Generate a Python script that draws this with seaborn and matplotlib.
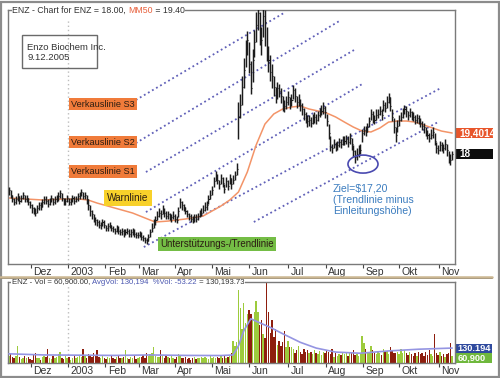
import numpy as np
import pandas as pd
import matplotlib
matplotlib.use("Agg")
import matplotlib.pyplot as plt
import seaborn as sns
from matplotlib.patches import Rectangle, Ellipse
from matplotlib.lines import Line2D
import matplotlib.transforms as mtransforms

# ---------------- data ----------------
close = [15.6, 15.3, 15.0, 14.8, 15.0, 15.2, 14.9, 15.1, 15.3, 15.0,
         15.1, 14.8, 14.6, 14.4, 14.2, 14.1, 14.4, 14.6, 14.5, 14.8,
         15.0, 14.9, 14.7, 14.9, 15.1, 14.8, 15.0, 15.0, 15.2, 15.4,
         15.1, 14.8, 14.9, 15.1, 14.8, 14.9, 15.1, 14.9, 15.0, 15.2,
         15.3, 15.5, 15.2, 15.3, 15.0, 14.6, 14.2, 14.0, 13.7, 13.6,
         13.5, 13.3, 13.3, 13.5, 13.3, 13.1, 13.2, 13.3, 13.1, 13.0,
         12.9, 13.1, 12.9, 12.8, 12.9, 12.7, 12.8, 12.9, 12.7, 12.8,
         12.9, 12.7, 12.6, 12.6, 12.7, 12.5, 12.4, 12.3, 12.2, 12.5,
         12.8, 13.1, 13.4, 13.6, 13.9, 14.1, 14.0, 14.3, 14.1, 13.9,
         14.0, 13.8, 13.8, 13.9, 13.7, 13.6, 14.2, 14.8, 14.6, 14.5,
         14.2, 14.0, 13.9, 13.7, 13.6, 13.8, 13.7, 13.9, 14.0, 14.1,
         14.3, 14.5, 14.6, 15.0, 15.3, 15.6, 16.2, 16.6, 16.3, 16.0,
         16.4, 16.1, 15.7, 16.2, 15.9, 16.4, 16.0, 16.3, 16.6, 17.0,
         20.5, 21.3, 22.5, 23.6, 24.8, 25.6, 24.0, 22.4, 24.3, 25.5,
         26.6, 27.4, 26.2, 25.6, 27.2, 26.8, 25.0, 24.3, 23.5, 23.2,
         22.5, 21.9, 22.4, 22.2, 21.9, 21.4, 21.2, 21.5, 21.8, 21.4,
         21.6, 22.3, 21.9, 21.5, 21.6, 21.3, 21.0, 20.7, 20.5, 20.2,
         20.3, 20.1, 20.3, 20.5, 20.3, 20.6, 20.8, 20.9, 21.1, 20.8,
         20.2, 19.4, 18.5, 18.4, 18.7, 18.5, 18.6, 18.8, 18.7, 18.9,
         18.9, 19.0, 18.8, 19.1, 18.7, 18.2, 17.8, 18.0, 18.2, 18.3,
         19.4, 19.6, 19.5, 19.8, 20.2, 20.7, 20.5, 20.3, 20.6, 20.7,
         20.9, 20.6, 21.3, 21.1, 21.5, 21.8, 21.2, 20.5, 19.8, 19.3,
         19.9, 20.3, 20.5, 20.8, 21.0, 20.9, 20.6, 20.8, 20.6, 20.5,
         20.3, 20.4, 20.3, 20.1, 19.9, 19.8, 19.5, 19.3, 19.1, 19.3,
         19.5, 18.9, 18.4, 18.3, 18.6, 18.5, 18.4, 18.7, 18.3, 17.9,
         17.6, 18.0]

high = [15.8, 15.6, 15.3, 15.1, 15.2, 15.4, 15.2, 15.3, 15.5, 15.3,
        15.3, 15.1, 14.9, 14.7, 14.5, 14.4, 14.6, 14.8, 14.8, 15.0,
        15.2, 15.2, 15.0, 15.1, 15.3, 15.1, 15.2, 15.3, 15.5, 15.6,
        15.4, 15.1, 15.1, 15.3, 15.1, 15.1, 15.3, 15.2, 15.2, 15.4,
        15.5, 15.7, 15.5, 15.5, 15.3, 15.0, 14.6, 14.3, 14.0, 13.8,
        13.7, 13.6, 13.5, 13.7, 13.6, 13.3, 13.4, 13.5, 13.3, 13.2,
        13.1, 13.3, 13.2, 13.0, 13.1, 13.0, 13.0, 13.1, 13.0, 13.0,
        13.1, 13.0, 12.8, 12.8, 12.9, 12.8, 12.6, 12.5, 12.4, 12.7,
        13.0, 13.4, 13.7, 13.9, 14.2, 14.4, 14.3, 14.6, 14.4, 14.2,
        14.2, 14.1, 14.0, 14.2, 14.0, 13.9, 14.5, 15.1, 14.9, 14.7,
        14.5, 14.3, 14.1, 14.0, 13.9, 14.0, 14.0, 14.1, 14.3, 14.4,
        14.6, 14.8, 14.9, 15.3, 15.6, 15.9, 16.5, 16.9, 16.7, 16.3,
        16.7, 16.5, 16.0, 16.5, 16.3, 16.7, 16.4, 16.6, 16.9, 17.4,
        21.5, 22.0, 23.2, 24.4, 25.6, 26.2, 25.5, 24.2, 25.0, 26.3,
        27.5, 27.9, 27.5, 26.5, 27.9, 27.6, 26.5, 25.2, 24.6, 24.0,
        23.2, 22.5, 22.8, 22.7, 22.4, 21.9, 21.6, 21.9, 22.2, 21.8,
        22.0, 22.6, 22.4, 21.9, 22.0, 21.7, 21.4, 21.1, 20.8, 20.6,
        20.6, 20.5, 20.7, 20.8, 20.7, 20.9, 21.1, 21.3, 21.5, 21.2,
        20.7, 20.0, 19.2, 18.7, 19.0, 18.8, 18.9, 19.1, 19.0, 19.2,
        19.2, 19.3, 19.2, 19.4, 19.1, 18.6, 18.3, 18.4, 18.6, 18.7,
        19.7, 19.9, 19.9, 20.1, 20.5, 21.0, 20.9, 20.6, 21.0, 21.0,
        21.2, 21.0, 21.6, 21.5, 21.9, 22.1, 21.8, 21.0, 20.4, 19.8,
        20.3, 20.6, 20.8, 21.1, 21.3, 21.2, 20.9, 21.1, 20.9, 20.8,
        20.6, 20.7, 20.6, 20.4, 20.2, 20.1, 19.8, 19.6, 19.4, 19.7,
        19.8, 19.4, 18.8, 18.6, 18.9, 18.8, 18.7, 19.0, 18.7, 18.2,
        18.0, 18.2]

low = [15.3, 15.1, 14.8, 14.6, 14.7, 14.9, 14.7, 14.8, 15.0, 14.8,
       14.8, 14.6, 14.4, 14.1, 14.0, 13.9, 14.1, 14.3, 14.3, 14.5,
       14.7, 14.7, 14.5, 14.6, 14.8, 14.6, 14.7, 14.8, 14.9, 15.1,
       14.9, 14.6, 14.6, 14.8, 14.6, 14.6, 14.8, 14.7, 14.8, 14.9,
       15.0, 15.2, 15.0, 15.0, 14.7, 14.3, 13.9, 13.7, 13.5, 13.3,
       13.2, 13.1, 13.0, 13.2, 13.1, 12.9, 12.9, 13.1, 12.9, 12.8,
       12.7, 12.8, 12.7, 12.6, 12.6, 12.5, 12.6, 12.7, 12.5, 12.5,
       12.6, 12.5, 12.4, 12.4, 12.5, 12.3, 12.2, 12.1, 12.0, 12.2,
       12.5, 12.8, 13.1, 13.3, 13.6, 13.8, 13.7, 14.0, 13.8, 13.7,
       13.7, 13.6, 13.5, 13.7, 13.5, 13.4, 13.8, 14.4, 14.3, 14.2,
       14.0, 13.8, 13.6, 13.5, 13.4, 13.5, 13.5, 13.6, 13.8, 13.9,
       14.1, 14.2, 14.3, 14.7, 15.0, 15.3, 15.8, 16.2, 16.0, 15.7,
       16.0, 15.8, 15.4, 15.8, 15.6, 16.0, 15.7, 16.0, 16.3, 16.6,
       19.0, 20.4, 21.3, 22.4, 23.8, 24.6, 23.4, 22.0, 22.8, 24.5,
       25.5, 26.3, 25.3, 24.6, 25.8, 25.2, 24.2, 23.5, 22.9, 22.4,
       21.9, 21.4, 21.7, 21.8, 21.4, 20.9, 20.8, 21.0, 21.3, 21.0,
       21.2, 21.7, 21.5, 21.1, 21.2, 20.9, 20.6, 20.3, 20.1, 19.8,
       19.9, 19.8, 20.0, 20.1, 20.0, 20.2, 20.5, 20.6, 20.7, 20.4,
       19.9, 19.0, 18.2, 18.1, 18.4, 18.2, 18.3, 18.5, 18.4, 18.6,
       18.6, 18.7, 18.5, 18.7, 18.3, 17.8, 17.4, 17.6, 17.8, 18.0,
       18.8, 19.3, 19.2, 19.5, 19.8, 20.3, 20.1, 20.0, 20.3, 20.4,
       20.6, 20.3, 20.9, 20.8, 21.1, 21.4, 20.9, 20.2, 19.4, 18.8,
       19.5, 19.9, 20.2, 20.4, 20.7, 20.5, 20.3, 20.5, 20.3, 20.2,
       20.0, 20.1, 20.0, 19.8, 19.6, 19.4, 19.2, 19.0, 18.8, 19.0,
       19.1, 18.6, 18.1, 18.0, 18.2, 18.2, 18.1, 18.3, 17.9, 17.4,
       17.3, 17.6]

volume_k = [60, 75, 55, 40, 65, 150, 50, 35, 45, 60,
            40, 55, 35, 30, 70, 85, 45, 40, 30, 55,
            65, 50, 120, 45, 35, 60, 40, 50, 75, 95,
            45, 35, 60, 40, 55, 30, 45, 65, 40, 50,
            70, 55, 120, 60, 45, 80, 65, 50, 90, 70,
            110, 55, 40, 60, 45, 35, 50, 40, 65, 45,
            35, 50, 60, 40, 45, 55, 110, 40, 35, 50,
            45, 60, 35, 40, 55, 50, 70, 45, 85, 60,
            75, 90, 140, 65, 55, 50, 110, 60, 45, 70,
            50, 40, 65, 45, 35, 55, 80, 70, 45, 40,
            55, 35, 45, 30, 40, 50, 35, 45, 40, 55,
            40, 50, 45, 35, 60, 45, 55, 40, 50, 45,
            60, 45, 70, 40, 55, 65, 90, 190, 150, 180,
            634, 475, 300, 520, 350, 430, 460, 430, 380, 440,
            540, 440, 330, 370, 255, 220, 695, 440, 265, 370,
            230, 300, 160, 195, 150, 180, 280, 140, 195, 135,
            135, 125, 90, 110, 150, 100, 80, 120, 95, 110,
            85, 100, 75, 110, 90, 80, 105, 70, 95, 85,
            110, 100, 75, 120, 55, 90, 60, 80, 70, 100,
            75, 85, 65, 95, 90, 110, 70, 80, 60, 75,
            235, 175, 120, 100, 85, 150, 110, 90, 75, 100,
            85, 70, 120, 95, 105, 80, 140, 110, 90, 85,
            100, 75, 120, 90, 110, 85, 70, 95, 80, 60,
            90, 65, 100, 75, 85, 60, 95, 70, 110, 80,
            65, 250, 85, 70, 95, 60, 80, 55, 75, 90,
            175, 60.9]

ma50_idx = [0, 10, 20, 30, 40, 45, 50, 60, 70, 80, 83, 90, 100, 110, 120, 125,
            130, 135, 140, 145, 150, 155, 160, 165, 170, 175, 180, 185, 190,
            195, 200, 205, 210, 215, 220, 225, 230, 235, 240, 245, 251]
ma50_val = [15.07, 15.0, 14.93, 15.0, 15.0, 14.93, 14.73, 14.4, 14.07, 13.6,
            13.47, 13.53, 13.67, 13.87, 14.53, 14.93, 15.47, 16.8, 18.6, 20.0,
            20.67, 21.0, 21.13, 21.2, 21.0, 20.87, 20.73, 20.47, 20.13, 19.8,
            19.53, 19.47, 19.73, 20.13, 20.2, 20.2, 20.13, 19.93, 19.73, 19.53,
            19.40]

avgvol_idx = [0, 20, 40, 60, 80, 100, 120, 127, 130, 133, 137, 142, 148,
              155, 165, 174, 185, 199, 215, 232, 251]
avgvol_k = [80, 70, 68, 66, 70, 66, 65, 70, 150, 280, 385, 350, 310,
            255, 180, 130, 95, 85, 105, 120, 130]

month_labels = ["Dez", "2003", "Feb", "Mar", "Apr", "Mai", "Jun", "Jul",
                "Aug", "Sep", "Okt", "Nov"]
month_idx = [12.5, 33.5, 54.5, 73.5, 94, 115, 136, 158, 179.5, 200.5, 221, 243.5]

trend_i0 = [71.9, 71.9, 77.6, 77.6, 76.4, 138.7]
trend_p0 = [21.6, 18.73, 16.8, 14.13, 11.8, 13.47]
trend_i1 = [155.7, 188.0, 195.4, 201.0, 244.6, 243.0]
trend_p1 = [27.4, 26.93, 24.93, 22.73, 22.4, 20.13]

last_close = 18.0
ma50_last = 19.4014
avgvol_last = 130.194
vol_last = 60.9

# ---------------- style ----------------
sns.set_style("white")
plt.rcParams['font.family'] = ['Liberation Sans', 'DejaVu Sans']

W, H = 500, 378
fig = plt.figure(figsize=(5.0, 3.78), dpi=100)
fig.patch.set_facecolor('white')


def fx(px):
    return px / W


def fy(py):
    return 1 - py / H


ax = fig.add_axes([fx(8), fy(264), fx(447), (264 - 10) / H])
ax2 = fig.add_axes([fx(8), fy(363), fx(447), (363 - 282) / H])

n = len(close)
x = np.arange(n)
df = pd.DataFrame({"i": x, "close": close, "high": high, "low": low,
                   "vol": np.array(volume_k) * 1000})

# price bars
ax.vlines(df["i"], df["low"], df["high"], color='#1c1c1c', lw=1.05, zorder=3)
ax.hlines(df["close"], df["i"], df["i"] + 0.6, color='#1c1c1c', lw=0.8, zorder=3)

# MA50
sns.lineplot(x=ma50_idx, y=ma50_val, ax=ax, color='#f39468', lw=1.1,
             estimator=None, sort=False, zorder=2)

# trend lines
for a0, b0, a1, b1 in zip(trend_i0, trend_p0, trend_i1, trend_p1):
    ax.plot([a0, a1], [b0, b1], color='#6060b8', lw=1.3, ls=(0, (1, 1.6)), zorder=1)

# 2003 separator
for a in (ax, ax2):
    a.axvline(33.4, color='#bdbdbd', ls=(0, (1, 2)), lw=1.0, ymax=0.96, zorder=0)

ax.set_xlim(-0.5, 252.6)
ax.set_ylim(10.67, 27.6)
ax2.set_xlim(-0.5, 252.6)
ax2.set_ylim(0, 705000)

# labels for lines
lab_kw = dict(color='#2b1d12', va='center', zorder=5)
s_box = dict(boxstyle='square,pad=0.2', fc='#f07b3a', ec='none')
ax.text(71.3, 21.33, "Verkauslinie S3", ha='right', fontsize=6.6, bbox=s_box, **lab_kw)
ax.text(71.3, 18.8, "Verkauslinie S2", ha='right', fontsize=6.6, bbox=s_box, **lab_kw)
ax.text(71.3, 16.83, "Verkauslinie S1", ha='right', fontsize=6.6, bbox=s_box, **lab_kw)
ax.text(67.4, 15.1, "Warnlinie", ha='center', fontsize=7.2,
        bbox=dict(boxstyle='square,pad=0.3', fc='#f8d12a', ec='none'), **lab_kw)
ax.text(85.7, 12.0, "Unterstützungs-/Trendlinie", ha='left', fontsize=7.0,
        bbox=dict(boxstyle='square,pad=0.2', fc='#74bd45', ec='none'), **lab_kw)

# target ellipse and text
ax.add_patch(Ellipse((200.5, 17.33), 17, 1.2, fill=False, ec='#4a4ab0', lw=1.2, zorder=4))
ax.text(183.5, 16.05, "Ziel=$17,20\n(Trendlinie minus\nEinleitungshöhe)",
        color='#3b7cbf', fontsize=7.6, va='top', ha='left', linespacing=1.2)

# right value labels (price)
blend = mtransforms.blended_transform_factory(ax.transAxes, ax.transData)
ax.add_patch(Rectangle((1.003, ma50_last - 0.31), 0.083, 0.62, transform=blend,
                       clip_on=False, fc='#e8552a', ec='none'))
ax.text(1.01, ma50_last, "19,4014", transform=blend, color='white', fontsize=7.2,
        fontweight='bold', va='center', ha='left', clip_on=False)
ax.add_patch(Rectangle((1.003, last_close - 0.31), 0.083, 0.62, transform=blend,
                       clip_on=False, fc='#0d0d0d', ec='none'))
ax.text(1.01, last_close, "18", transform=blend, color='white', fontsize=7.2,
        fontweight='bold', va='center', ha='left', clip_on=False)

# volume
vol_col = ['#9dcb3c' if (k == 0 or close[k] >= close[k - 1]) else '#8e1e0e' for k in range(n)]
ax2.bar(df["i"], df["vol"], width=0.8, color=vol_col, linewidth=0, zorder=2)
sns.lineplot(x=avgvol_idx, y=np.array(avgvol_k) * 1000, ax=ax2, color='#9595e2',
             lw=1.2, estimator=None, sort=False, zorder=3)

blend2 = mtransforms.blended_transform_factory(ax2.transAxes, ax2.transData)
ax2.add_patch(Rectangle((1.0, avgvol_last * 1000 - 39000), 0.082, 78000, transform=blend2,
                        clip_on=False, fc='#2f4a9e', ec='none'))
ax2.text(1.006, avgvol_last * 1000, "130.194", transform=blend2, color='white',
         fontsize=6.6, fontweight='bold', va='center', ha='left', clip_on=False)
ax2.add_patch(Rectangle((1.0, avgvol_last * 1000 - 126000), 0.082, 84000, transform=blend2,
                        clip_on=False, fc='#6fb83c', ec='none'))
ax2.text(1.006, avgvol_last * 1000 - 84000, "60,900", transform=blend2, color='white',
         fontsize=6.6, fontweight='bold', va='center', ha='left', clip_on=False)

# axes styling
offset = mtransforms.ScaledTranslation(2.5 / 100, 0, fig.dpi_scale_trans)
for a in (ax, ax2):
    for s in a.spines.values():
        s.set_color('#7a7a7a')
        s.set_linewidth(1.0)
    a.set_yticks([])
    a.set_xticks(month_idx)
    a.set_xticklabels(month_labels)
    a.tick_params(axis='x', direction='out', length=3, width=0.8, color='#444',
                  labelsize=7.5, labelcolor='#333', pad=-1.0, bottom=True)
    a.set_xlabel("")
    a.set_ylabel("")
    for lab in a.get_xticklabels():
        lab.set_horizontalalignment('left')
        lab.set_transform(lab.get_transform() + offset)
    a.set_facecolor('white')


# titles (multi-colored), chained on the axes they belong to
def make_title(a, xpx, ypx, parts, size):
    t0 = a.annotate(parts[0][0], xy=(fx(xpx), fy(ypx)), xycoords='figure fraction',
                    va='center', ha='left', color=parts[0][1], fontsize=size,
                    annotation_clip=False, zorder=10,
                    bbox=dict(boxstyle='square,pad=0.1', fc='white', ec='none'))
    prev = t0
    for txt, col in parts[1:]:
        prev = a.annotate(txt, xy=(1, 0), xycoords=prev, va='bottom', ha='left',
                          color=col, fontsize=size, annotation_clip=False, zorder=10,
                          bbox=dict(boxstyle='square,pad=0.05', fc='white', ec='none'))


make_title(ax, 12.5, 10.5, [("ENZ - Chart for ENZ = 18.00, ", '#333333'),
                            ("MM50", '#e8603c'),
                            (" = 19.40", '#333333')], 6.3)
make_title(ax2, 12, 282, [("ENZ - Vol = 60,900.00, ", '#333333'),
                          ("AvgVol: 130,194  %Vol: -53.22", '#4a56b0'),
                          (" = 130,193.73", '#333333')], 5.6)

# info box
fig.patches.append(Rectangle((fx(22), fy(68)), fx(75), (68 - 35) / H,
                             transform=fig.transFigure, fill=False, ec='#6a6a6a', lw=1.0))
fig.text(fx(27), fy(47.5), "Enzo Biochem Inc.", fontsize=6.8, color='#333', va='center')
fig.text(fx(27), fy(57), "9.12.2005", fontsize=6.8, color='#333', va='center')

# separator line between panels
fig.lines.append(Line2D([fx(0), fx(492)], [fy(276.5), fy(276.5)], transform=fig.transFigure,
                        color='#cbb691', lw=1.8))
fig.lines.append(Line2D([fx(0), fx(492)], [fy(278), fy(278)], transform=fig.transFigure,
                        color='#9a8c72', lw=0.5))

# outer border
fig.patches.append(Rectangle((0.002, 0.003), 0.995, 0.993, transform=fig.transFigure,
                             fill=False, ec='#8c8c8c', lw=1.6))

fig.savefig("out.png", dpi=100)
